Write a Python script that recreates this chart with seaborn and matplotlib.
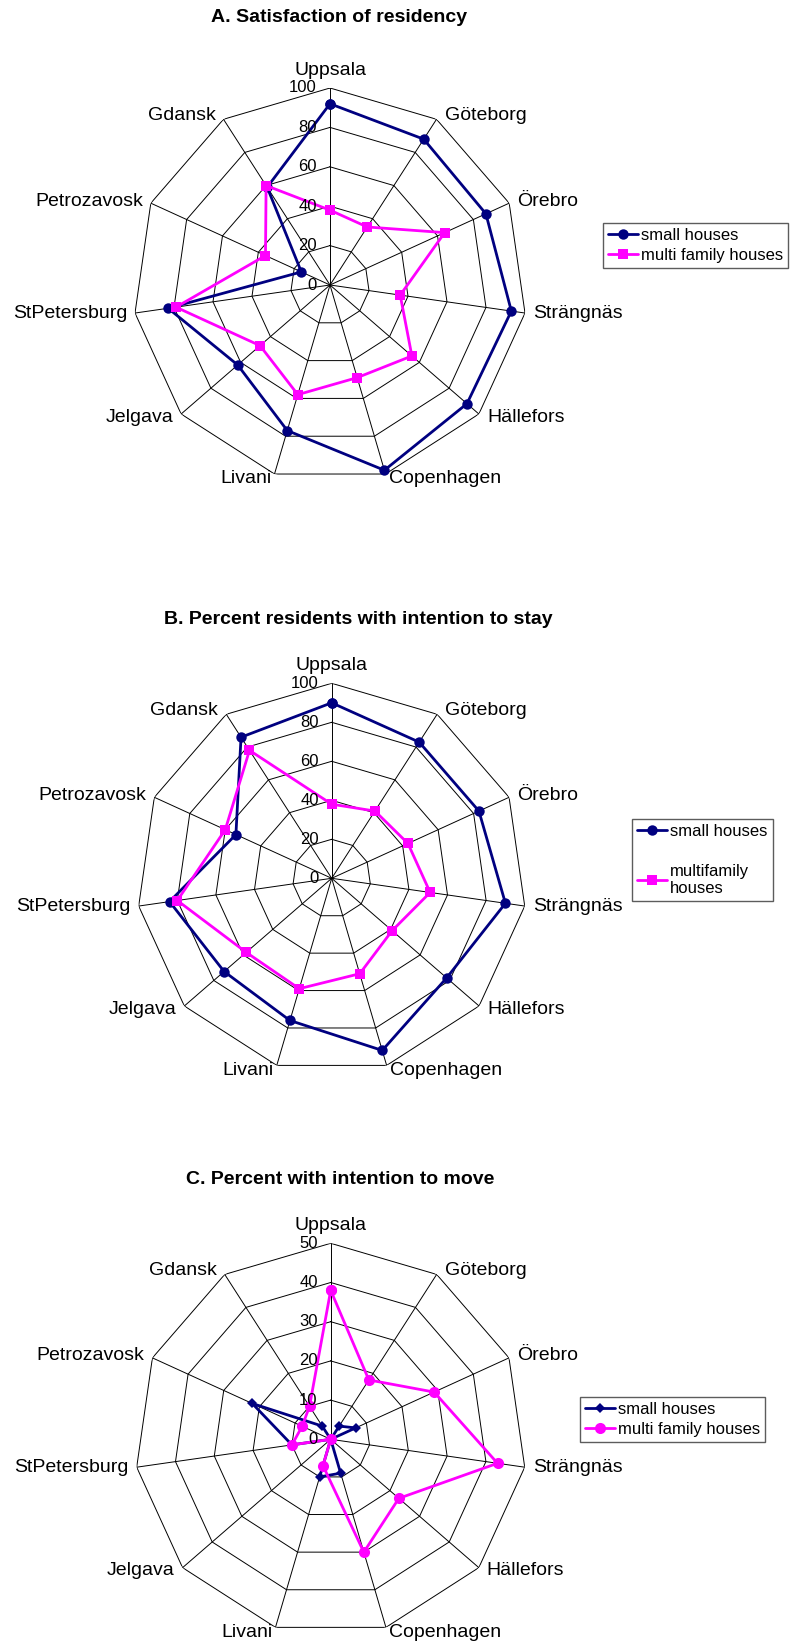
import numpy as np
import matplotlib
matplotlib.use("Agg")
import matplotlib.pyplot as plt
import seaborn as sns
from matplotlib.lines import Line2D

# ==========================================
# 1. DATOS
# ==========================================
ciudades = ["Uppsala", "Göteborg", "Örebro", "Strängnäs", "Hällefors", "Copenhagen",
            "Livani", "Jelgava", "StPetersburg", "Petrozavosk", "Gdansk"]

# A. Satisfacción con la residencia
a_small = [92, 88, 87, 93, 92, 98, 77, 62, 83, 16, 59]
a_multi = [38, 35, 64, 36, 55, 49, 58, 47, 79, 36, 60]

# B. Porcentaje con intención de quedarse
b_small = [90, 83, 83, 90, 78, 92, 76, 73, 84, 54, 86]
b_multi = [38, 41, 43, 51, 41, 51, 59, 58, 80, 60, 78]

# C. Porcentaje con intención de mudarse
c_small = [0, 4, 7, 0, 0, 9, 10, 0, 10, 22, 4]
c_multi = [38, 18, 29, 43, 23, 30, 7, 0, 10, 8, 10]

ticks_ab = [0, 20, 40, 60, 80, 100]
ticks_c = [0, 10, 20, 30, 40, 50]

NAVY = "#000080"
MAGENTA = "#FF00FF"

W, H = 792, 1647

sns.set_style("white")
plt.rcParams['font.family'] = ['Liberation Sans', 'DejaVu Sans']
plt.rcParams['text.color'] = 'black'

fig = plt.figure(figsize=(W / 100, H / 100), dpi=100)

n = len(ciudades)
angulos = np.linspace(0, 2 * np.pi, n, endpoint=False)


def px(v):
    # pixeles -> puntos (dpi 100)
    return v * 0.72


def radar(cx, cy, R, ticks, series, titulo, tx, ty, leyenda):
    ax = fig.add_axes([(cx - R) / W, 1 - (cy + R) / H, 2 * R / W, 2 * R / H],
                      projection="polar")
    ax.set_theta_zero_location("N")
    ax.set_theta_direction(-1)
    ax.grid(False)
    ax.spines["polar"].set_visible(False)
    rmax = ticks[-1]

    # rejilla poligonal y radios
    th = np.append(angulos, angulos[0])
    for t in ticks[1:]:
        ax.plot(th, [t] * len(th), color="black", lw=0.7, zorder=1)
    for a in angulos:
        ax.plot([a, a], [0, rmax], color="black", lw=0.7, zorder=1)

    # series (cerramos el polígono repitiendo el primer punto)
    for valores, etiqueta, color, (marca, tam) in series:
        ax.plot(th, valores + valores[:1], color=color, lw=2, marker=marca,
                markersize=tam, markeredgewidth=0, zorder=3, clip_on=False)

    ax.set_xticks([])
    ax.set_yticks([])
    ax.set_ylim(0, rmax)

    # etiquetas de las ciudades
    for a, nombre in zip(angulos, ciudades):
        s, c = np.sin(a), np.cos(a)
        if abs(s) < 0.05:
            ax.annotate(nombre, xy=(a, rmax), xytext=(0, px(9)), textcoords="offset points",
                        ha="center", va="bottom", fontsize=14, annotation_clip=False)
        else:
            dx = (8 if abs(s) > 0.5 else 3) * np.sign(s)
            ax.annotate(nombre, xy=(a, rmax), xytext=(px(dx), px(5 * c)),
                        textcoords="offset points", ha="left" if s > 0 else "right",
                        va="center", fontsize=14, annotation_clip=False)

    # marcas del eje radial
    for t in ticks:
        ax.annotate(str(t), xy=(0, t), xytext=(px(-13), 0), textcoords="offset points",
                    ha="right", va="center", fontsize=12, annotation_clip=False)

    fig.text(tx / W, 1 - ty / H, titulo, ha="center", va="center",
             fontsize=14, fontweight="bold")

    # leyenda
    lx, ly, spacing = leyenda
    handles = [Line2D([], [], color=s[2], marker=s[3][0], markersize=s[3][1],
                      markeredgewidth=0, lw=2) for s in series]
    leg = fig.legend(handles, [s[1] for s in series], loc="upper left",
                     bbox_to_anchor=(lx / W, 1 - ly / H), borderaxespad=0,
                     fontsize=12, frameon=True, fancybox=False, handlelength=1.8,
                     handletextpad=0.2, borderpad=0.3, labelspacing=spacing)
    leg.get_frame().set_edgecolor("#333333")
    leg.get_frame().set_linewidth(1)
    return ax


radar(330, 285, 197, ticks_ab,
      [(a_small, "small houses", NAVY, ("o", 7.5)),
       (a_multi, "multi family houses", MAGENTA, ("s", 7.5))],
      "A. Satisfaction of residency", 339.5, 17, (603, 223, 0.3))

radar(331.7, 878.3, 195, ticks_ab,
      [(b_small, "small houses", NAVY, ("o", 7.5)),
       (b_multi, "multifamily\nhouses", MAGENTA, ("s", 7.5))],
      "B. Percent residents with intention to stay", 358, 619, (632, 819, 1.5))

radar(330.7, 1439.3, 196, ticks_c,
      [(c_small, "small houses", NAVY, ("D", 5.5)),
       (c_multi, "multi family houses", MAGENTA, ("o", 8))],
      "C. Percent with intention to move", 340, 1179, (580, 1397, 0.3))

plt.savefig("out.png", dpi=100)
